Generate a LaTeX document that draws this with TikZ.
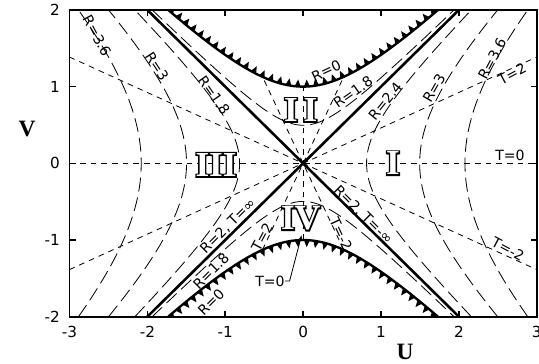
\documentclass[tikz,border=0pt]{standalone}
\usepackage{fontspec}
\setmainfont{DejaVu Sans}
\newfontfamily\romanfont{Liberation Serif}
\newfontface\numeralout{Liberation Serif Bold}[FakeBold=8]
\usepackage{tikz}
\usetikzlibrary{
  arrows.meta,          % 箭头样式
  calc,                 % 坐标计算
  decorations.markings  % 奇点上的锯齿
}

\tikzset{
  frameline/.style={line width=1.4pt},
  horizon/.style={line width=2.2pt},
  singular/.style={line width=2pt},
  rline/.style={line width=0.7pt, dash pattern=on 0.42cm off 0.18cm},
  tline/.style={line width=0.7pt, dash pattern=on 0.17cm off 0.15cm},
  lab/.style={font=\fontsize{12}{14}\selectfont, inner sep=0pt},
  ticklab/.style={font=\fontsize{13}{15}\selectfont, inner sep=0pt},
  axislab/.style={font=\romanfont\bfseries\fontsize{20}{22}\selectfont, inner sep=0pt},
  numeral/.style={font=\romanfont\bfseries\fontsize{30}{32}\selectfont, inner sep=0pt},
  numeralback/.style={font=\numeralout\fontsize{30}{32}\selectfont, inner sep=0pt},
  teeth/.style={postaction={decorate},
    decoration={markings, mark=between positions 0.01 and 1 step 0.28cm with
      {\fill (-0.09cm,0) -- (0.09cm,0) -- (0,#1*0.21cm) -- cycle;}}}
}

% 空心罗马数字：黑色加粗底字 + 白色正文
\newcommand{\hollowlabel}[3]{%
  \node[numeralback, text=black] at (#2) {#3};
  \node[numeral, text=white] (#1) at (#2) {#3};
}

\begin{document}
\begin{tikzpicture}[x=2.336cm, y=2.300cm, >=Stealth]
  \useasboundingbox (-3.892,-2.617) rectangle (3.029,2.130);

  % =========== 基础坐标 ===========
  \coordinate (O) at (0,0);
  \coordinate (SW) at (-3,-2);
  \coordinate (NE) at (3,2);

  % =========== 曲线 (裁剪到框内) ===========
  \begin{scope}
    \clip (SW) rectangle (NE);

    % T = 常数：过原点的直线
    \draw[tline] (-3,0) -- (3,0);
    \draw[tline] (-3,-1.386) -- (3,1.386);
    \draw[tline] (-3,1.386) -- (3,-1.386);
    \draw[tline] (0,-1) -- (0,1);
    \draw[tline] (-0.521,-1.1275) -- (0.521,1.1275);
    \draw[tline] (0.521,-1.1275) -- (-0.521,1.1275);

    % R = 常数：区域 I、III 中的双曲线
    \foreach \c in {0.664, 2.24, 4.32} {
      \draw[rline] plot[variable=\t, domain=-2:2, samples=60] ({sqrt(\c+\t*\t)},\t);
      \draw[rline] plot[variable=\t, domain=-2:2, samples=60] ({-sqrt(\c+\t*\t)},\t);
    }
    % R = 1.8：区域 II、IV
    \draw[rline] plot[domain=-1.94:1.94, samples=60] (\x,{sqrt(0.246+\x*\x)});
    \draw[rline] plot[domain=-1.94:1.94, samples=60] (\x,{-sqrt(0.246+\x*\x)});

    % 视界
    \draw[horizon] (-2,-2) -- (2,2);
    \draw[horizon] (-2,2) -- (2,-2);

    % 奇点 R = 0
    \draw[singular, teeth=1] plot[domain=-1.7321:1.7321, samples=80] (\x,{sqrt(1+\x*\x)});
    \draw[singular, teeth=-1] plot[domain=-1.7321:1.7321, samples=80] (\x,{-sqrt(1+\x*\x)});
  \end{scope}

  % =========== 边框与刻度 ===========
  \draw[frameline] (SW) rectangle (NE);
  \foreach \u in {-2,...,2} {
    \draw[frameline] (\u,-2) -- ++(0,0.08);
    \draw[frameline] (\u,2) -- ++(0,-0.08);
  }
  \foreach \v in {-1,0,1} {
    \draw[frameline] (-3,\v) -- ++(0.08,0);
    \draw[frameline] (3,\v) -- ++(-0.08,0);
  }
  \foreach \u in {-3,...,3}
    \node[ticklab, anchor=north] (u\u) at (\u,-2.12) {\u};
  \foreach \v in {-2,...,2}
    \node[ticklab, anchor=east] (v\v) at (-3.12,\v) {\v};

  \node[axislab] (Vlab) at (-3.545,0.448) {V};
  \node[axislab] (Ulab) at (1.309,-2.46) {U};

  % =========== 区域编号 ===========
  \coordinate (pI) at (1.154,0);
  \coordinate (pII) at (-0.03,0.696);
  \coordinate (pIII) at (-1.118,-0.02);
  \coordinate (pIV) at (-0.03,-0.72);
  \hollowlabel{regI}{pI}{I}
  \hollowlabel{regII}{pII}{I\,I}
  \hollowlabel{regIII}{pIII}{III}
  \hollowlabel{regIV}{pIV}{IV}

  % =========== 曲线标注 ===========
  \node[lab, rotate=25] (r0top) at (0.296,1.204) {R=0};
  \node[lab, rotate=35] (r18top) at (0.641,0.930) {R=1.8};
  \node[lab, rotate=51] (r24) at (1.052,0.813) {R=2.4};
  \node[lab, rotate=60] (r3right) at (1.681,0.983) {R=3};
  \node[lab, rotate=62] (r36right) at (2.426,1.361) {R=3.6};
  \node[lab, rotate=28] (t2right) at (2.683,1.165) {T=2};
  \node[lab] (t0right) at (2.657,0.1) {T=0};
  \node[lab, rotate=-28] (tm2right) at (2.632,-1.117) {T=-2};

  \node[lab, rotate=-62] (r36left) at (-2.646,1.661) {R=3.6};
  \node[lab, rotate=-57] (r3left) at (-1.876,1.269) {R=3};
  \node[lab, rotate=-55] (r18left) at (-1.144,0.89) {R=1.8};

  \node[lab, rotate=45] (hzleft) at (-0.964,-0.817) {R=2, T=∞};
  \node[lab, rotate=45] (r18bot) at (-1.183,-1.404) {R=1.8};
  \node[lab, rotate=45] (r0bot) at (-1.183,-1.808) {R=0};
  \node[lab, rotate=-45] (hzright) at (0.77,-0.674) {R=2, T=-∞};

  \node[lab, rotate=62] (t2bot) at (-0.528,-0.961) {T=2};
  \node[lab, rotate=-65] (tm2bot) at (0.487,-0.922) {T=-2};

  % T=0 的引线
  \node[lab] (t0bot) at (-0.425,-1.535) {T=0};
  \coordinate (t0tip) at (-0.02,-0.94);
  \draw[line width=0.7pt, -{Stealth[length=5pt, width=3.5pt]}]
    (t0bot.east) -- ++(0.06,0) -- (t0tip);
\end{tikzpicture}
\end{document}
